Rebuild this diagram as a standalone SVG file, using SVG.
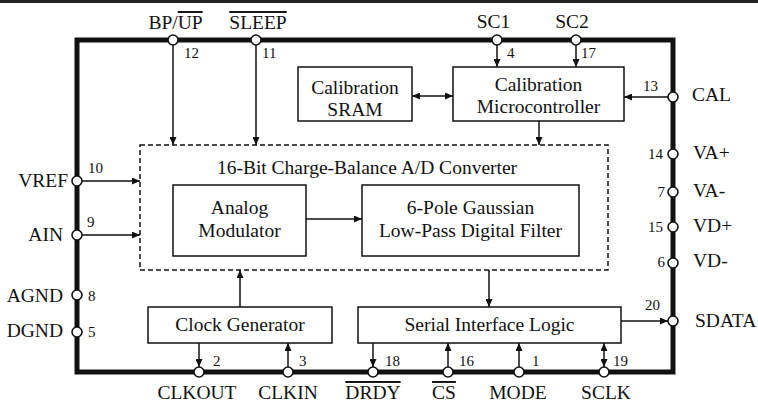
<svg xmlns="http://www.w3.org/2000/svg" width="758" height="402" viewBox="0 0 758 402">
<style>
text{font-family:"Liberation Serif","Times New Roman",serif;fill:#111}
.lbl{font-size:19.5px}
.num{font-size:15px}
.box{fill:#fff;stroke:#111;stroke-width:1.5}
.dash{fill:none;stroke:#111;stroke-width:1.5;stroke-dasharray:5,3}
.pin{fill:#fff;stroke:#111;stroke-width:1.6}
.ar{stroke:#111;stroke-width:1.5;fill:none;marker-end:url(#ah)}
.ar2{stroke:#111;stroke-width:1.5;fill:none;marker-end:url(#ah);marker-start:url(#ah)}
.c{text-anchor:middle}
.e{text-anchor:end}
</style>
<defs>
<marker id="ah" markerUnits="userSpaceOnUse" markerWidth="9" markerHeight="7" refX="8" refY="3.5" orient="auto-start-reverse">
<path d="M0,0 L8,3.5 L0,7 z" fill="#111"/>
</marker>
</defs>
<rect x="0" y="0" width="758" height="3" fill="#222"/>
<g id="chip">
<rect x="77" y="40" width="596" height="332" fill="none" stroke="#111" stroke-width="5"/>
</g>
<g id="converter">
<rect class="dash" x="140" y="145" width="468" height="125"/>
<text class="lbl c" x="367" y="174">16-Bit Charge-Balance A/D Converter</text>
</g>
<g id="sram">
<rect class="box" x="298" y="67" width="114" height="54"/>
<text class="lbl c" x="355" y="94">Calibration</text>
<text class="lbl c" x="355" y="116">SRAM</text>
</g>
<g id="micro">
<rect class="box" x="453" y="67" width="171" height="54"/>
<text class="lbl c" x="538.5" y="91">Calibration</text>
<text class="lbl c" x="538.5" y="113">Microcontroller</text>
</g>
<g id="modulator">
<rect class="box" x="173" y="185" width="133" height="71"/>
<text class="lbl c" x="239.5" y="214">Analog</text>
<text class="lbl c" x="239.5" y="237">Modulator</text>
</g>
<g id="filter">
<rect class="box" x="362" y="185" width="217" height="71"/>
<text class="lbl c" x="470.5" y="214">6-Pole Gaussian</text>
<text class="lbl c" x="470.5" y="237">Low-Pass Digital Filter</text>
</g>
<g id="clockgen">
<rect class="box" x="148" y="307" width="184" height="36"/>
<text class="lbl c" x="240" y="331">Clock Generator</text>
</g>
<g id="serial">
<rect class="box" x="358" y="307" width="263" height="36"/>
<text class="lbl c" x="489.5" y="331">Serial Interface Logic</text>
</g>
<g id="connectors">
<line class="ar" x1="173" y1="45" x2="173" y2="145"/>
<line class="ar" x1="256" y1="45" x2="256" y2="145"/>
<line class="ar" x1="497" y1="45" x2="497" y2="67"/>
<line class="ar" x1="576" y1="45" x2="576" y2="67"/>
<line class="ar" x1="668" y1="97" x2="624" y2="97"/>
<line class="ar2" x1="412" y1="96" x2="453" y2="96"/>
<line class="ar" x1="539" y1="121" x2="539" y2="145"/>
<line class="ar" x1="82" y1="181" x2="140" y2="181"/>
<line class="ar" x1="82" y1="235" x2="140" y2="235"/>
<line class="ar" x1="306" y1="219" x2="362" y2="219"/>
<line class="ar" x1="240" y1="307" x2="240" y2="270"/>
<line class="ar" x1="489" y1="270" x2="489" y2="307"/>
<line class="ar" x1="621" y1="321" x2="668" y2="321"/>
<line class="ar" x1="199" y1="343" x2="199" y2="367"/>
<line class="ar" x1="288" y1="367" x2="288" y2="343"/>
<line class="ar" x1="373" y1="343" x2="373" y2="367"/>
<line class="ar" x1="448" y1="367" x2="448" y2="343"/>
<line class="ar" x1="519" y1="367" x2="519" y2="343"/>
<line class="ar2" x1="604" y1="367" x2="604" y2="343"/>
</g>
<g id="pin-bpup"><circle class="pin" cx="173" cy="40" r="5"/><text class="lbl c" x="175.5" y="29">BP/<tspan text-decoration="overline">UP</tspan></text><text class="num" x="184" y="58">12</text></g>
<g id="pin-sleep"><circle class="pin" cx="256" cy="40" r="5"/><text class="lbl c" x="258" y="29" text-decoration="overline">SLEEP</text><text class="num" x="262" y="58">11</text></g>
<g id="pin-sc1"><circle class="pin" cx="497" cy="40" r="5"/><text class="lbl c" x="493.5" y="28">SC1</text><text class="num" x="507" y="58">4</text></g>
<g id="pin-sc2"><circle class="pin" cx="576" cy="40" r="5"/><text class="lbl c" x="572" y="28">SC2</text><text class="num" x="581" y="58">17</text></g>
<g id="pin-cal"><circle class="pin" cx="673" cy="97" r="5"/><text class="lbl" x="692" y="101">CAL</text><text class="num" x="643" y="91">13</text></g>
<g id="pin-vap"><circle class="pin" cx="673" cy="154" r="5"/><text class="lbl" x="693" y="159">VA+</text><text class="num e" x="663" y="159">14</text></g>
<g id="pin-vam"><circle class="pin" cx="673" cy="192" r="5"/><text class="lbl" x="693" y="197">VA-</text><text class="num e" x="665" y="197">7</text></g>
<g id="pin-vdp"><circle class="pin" cx="673" cy="227" r="5"/><text class="lbl" x="693" y="232">VD+</text><text class="num e" x="663" y="232">15</text></g>
<g id="pin-vdm"><circle class="pin" cx="673" cy="263" r="5"/><text class="lbl" x="693" y="267">VD-</text><text class="num e" x="665" y="267">6</text></g>
<g id="pin-sdata"><circle class="pin" cx="673" cy="321" r="5"/><text class="lbl" x="695" y="327">SDATA</text><text class="num" x="645" y="310">20</text></g>
<g id="pin-vref"><circle class="pin" cx="77" cy="181" r="5"/><text class="lbl e" x="68" y="187">VREF</text><text class="num" x="88" y="173">10</text></g>
<g id="pin-ain"><circle class="pin" cx="77" cy="235" r="5"/><text class="lbl e" x="63" y="241">AIN</text><text class="num" x="87" y="227">9</text></g>
<g id="pin-agnd"><circle class="pin" cx="77" cy="295" r="5"/><text class="lbl e" x="63" y="302">AGND</text><text class="num" x="88" y="301">8</text></g>
<g id="pin-dgnd"><circle class="pin" cx="77" cy="332" r="5"/><text class="lbl e" x="63" y="337">DGND</text><text class="num" x="88" y="337">5</text></g>
<g id="pin-clkout"><circle class="pin" cx="199" cy="372" r="5"/><text class="lbl c" x="197" y="399">CLKOUT</text><text class="num" x="213" y="366">2</text></g>
<g id="pin-clkin"><circle class="pin" cx="288" cy="372" r="5"/><text class="lbl c" x="288" y="399">CLKIN</text><text class="num" x="299" y="366">3</text></g>
<g id="pin-drdy"><circle class="pin" cx="373" cy="372" r="5"/><text class="lbl c" x="373" y="399" text-decoration="overline">DRDY</text><text class="num" x="385" y="366">18</text></g>
<g id="pin-cs"><circle class="pin" cx="448" cy="372" r="5"/><text class="lbl c" x="444" y="399" text-decoration="overline">CS</text><text class="num" x="459" y="366">16</text></g>
<g id="pin-mode"><circle class="pin" cx="519" cy="372" r="5"/><text class="lbl c" x="518" y="399">MODE</text><text class="num" x="532" y="366">1</text></g>
<g id="pin-sclk"><circle class="pin" cx="604" cy="372" r="5"/><text class="lbl c" x="606" y="399">SCLK</text><text class="num" x="613" y="366">19</text></g>
</svg>
